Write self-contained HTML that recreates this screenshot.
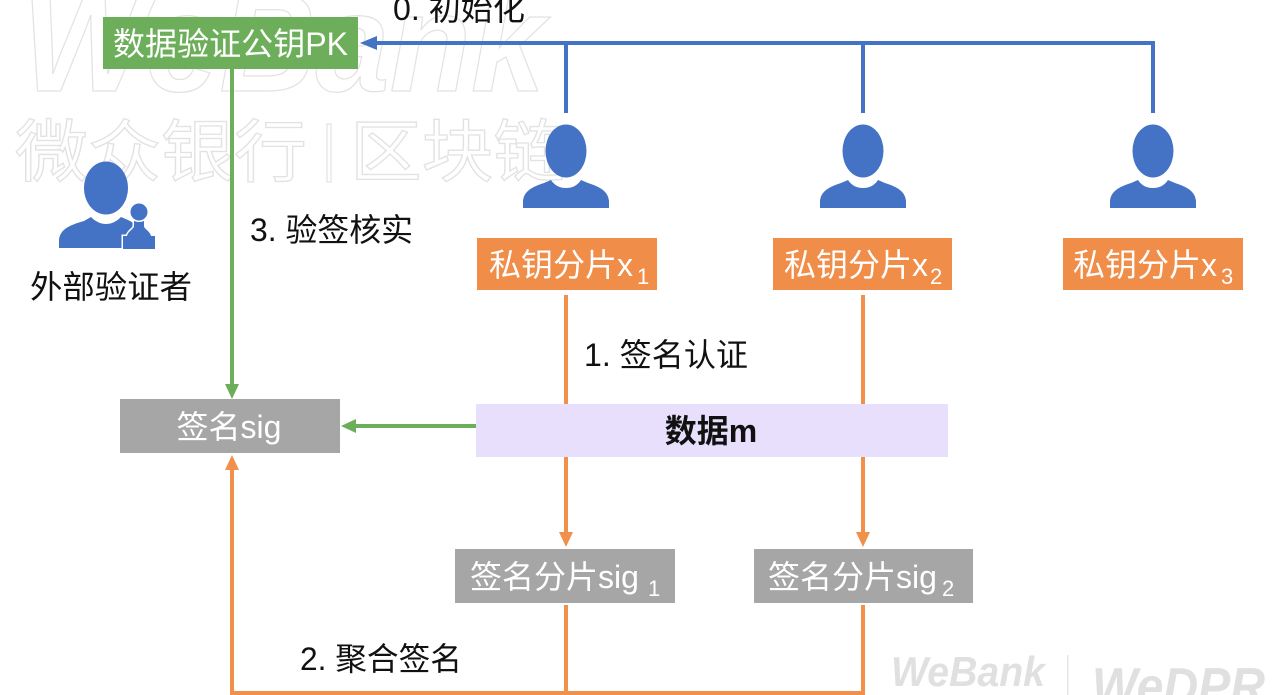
<!DOCTYPE html>
<html>
<head>
<meta charset="utf-8">
<style>
  html, body { margin:0; padding:0; background:#fff; }
  body { width:1280px; height:695px; overflow:hidden; }
  svg { display:block; }
  .t { font-family: "Liberation Sans", "Noto Sans CJK SC", sans-serif; font-size:32px; }
</style>
</head>
<body>
<svg width="1280" height="695" viewBox="0 0 1280 695" xmlns="http://www.w3.org/2000/svg">
  <defs>
    <g id="user">
      <ellipse cx="0" cy="151" rx="20.5" ry="26.5" fill="#4472C4"/>
      <path d="M-43,208 L-43,201 C-42,191 -34,187 -22,183 L-15,180 C-11,186 -6,188 0,188 C6,188 11,186 15,180 L22,183 C34,187 42,191 43,201 L43,208 Z" fill="#4472C4"/>
    </g>
  </defs>

  <!-- Watermarks -->
  <text x="22" y="91" font-family="Liberation Sans, sans-serif" font-weight="bold" font-style="italic" font-size="140" textLength="523" lengthAdjust="spacingAndGlyphs" fill="#fff" stroke="#e2e2e2" stroke-width="1.3">WeBank</text>
  <text x="15" y="176" font-family="Liberation Sans, 'Noto Sans CJK SC', sans-serif" font-size="68" textLength="292" lengthAdjust="spacingAndGlyphs" fill="#fff" stroke="#e2e2e2" stroke-width="1.3">微众银行</text>
  <rect x="327" y="124" width="4" height="58" fill="#fff" stroke="#e2e2e2" stroke-width="1.2"/>
  <text x="350" y="176" font-family="Liberation Sans, 'Noto Sans CJK SC', sans-serif" font-size="68" textLength="215" lengthAdjust="spacingAndGlyphs" fill="#fff" stroke="#e2e2e2" stroke-width="1.3">区块链</text>

  <text x="891" y="686" font-family="Liberation Sans, sans-serif" font-weight="bold" font-style="italic" font-size="42" textLength="154" lengthAdjust="spacingAndGlyphs" fill="#e0e0e0">WeBank</text>
  <rect x="1067" y="655" width="1.5" height="40" fill="#e6e6e6"/>
  <text x="1092" y="704" font-family="Liberation Sans, sans-serif" font-weight="bold" font-style="italic" font-size="52" textLength="173" lengthAdjust="spacingAndGlyphs" fill="#e0e0e0">WeDPR</text>

  <!-- Blue init connectors -->
  <g stroke="#4472C4" stroke-width="4" fill="none">
    <line x1="1153" y1="43" x2="374" y2="43"/>
    <line x1="566" y1="43" x2="566" y2="113"/>
    <line x1="863" y1="43" x2="863" y2="113"/>
    <line x1="1153" y1="41" x2="1153" y2="113"/>
  </g>
  <polygon points="360,43 377,36 377,50" fill="#4472C4"/>

  <!-- Green connectors -->
  <g stroke="#6DAE5A" stroke-width="4" fill="none">
    <line x1="232" y1="69" x2="232" y2="386"/>
    <line x1="477" y1="426" x2="354" y2="426"/>
  </g>
  <polygon points="232,399 225,384 239,384" fill="#6DAE5A"/>
  <polygon points="341,426 356,419 356,433" fill="#6DAE5A"/>

  <!-- Orange connectors -->
  <g stroke="#F0904A" stroke-width="4" fill="none">
    <line x1="566" y1="295" x2="566" y2="534"/>
    <line x1="863" y1="295" x2="863" y2="534"/>
    <line x1="566" y1="605" x2="566" y2="693"/>
    <line x1="863" y1="605" x2="863" y2="693"/>
    <line x1="230" y1="693" x2="865" y2="693"/>
    <line x1="232" y1="695" x2="232" y2="468"/>
  </g>
  <polygon points="566,547 559,532 573,532" fill="#F0904A"/>
  <polygon points="863,547 856,532 870,532" fill="#F0904A"/>
  <polygon points="232,455 225,470 239,470" fill="#F0904A"/>

  <!-- Green PK box -->
  <rect x="103" y="17" width="255" height="52" fill="#6DAE5A"/>
  <text class="t" x="113" y="55" fill="#fff" textLength="235" lengthAdjust="spacingAndGlyphs">数据验证公钥PK</text>

  <!-- Label 0 -->
  <text class="t" x="393" y="20" fill="#111" textLength="132" lengthAdjust="spacingAndGlyphs">0. 初始化</text>

  <!-- Users -->
  <use href="#user" x="566" y="0"/>
  <use href="#user" x="863" y="0"/>
  <use href="#user" x="1153" y="0"/>

  <!-- External verifier icon -->
  <ellipse cx="106" cy="188" rx="22" ry="26.5" fill="#4472C4"/>
  <path d="M59,248 L59,240 C60,229 70,225 84,221 L91,217 C96,222 101,224 106,224 C111,224 116,222 121,217 L128,220 C134,223 138,226 140,230 L140,248 Z" fill="#4472C4"/>
  <g fill="#4472C4" stroke="#fff" stroke-width="3" paint-order="stroke">
    <path d="M134,218 L144,218 L144,226 C144,229 150,231 151,236 L155,236 L155,249 L123,249 L123,236 L127,236 C128,231 134,229 134,226 Z"/>
    <circle cx="139" cy="212" r="8.5"/>
  </g>
  <text class="t" x="30" y="298" fill="#111" textLength="162" lengthAdjust="spacingAndGlyphs">外部验证者</text>

  <!-- Label 3 -->
  <text class="t" x="250" y="241" fill="#111" textLength="163" lengthAdjust="spacingAndGlyphs">3. 验签核实</text>

  <!-- Private key shards -->
  <rect x="477" y="238" width="180" height="52" fill="#F08D49"/>
  <text class="t" x="489" y="276" fill="#fff">私钥分片x<tspan x="637" y="284" font-size="22">1</tspan></text>
  <rect x="773" y="238" width="179" height="52" fill="#F08D49"/>
  <text class="t" x="784" y="276" fill="#fff">私钥分片x<tspan x="930" y="284" font-size="22">2</tspan></text>
  <rect x="1063" y="238" width="180" height="52" fill="#F08D49"/>
  <text class="t" x="1073" y="276" fill="#fff">私钥分片x<tspan x="1221" y="284" font-size="22">3</tspan></text>

  <!-- Label 1 -->
  <text class="t" x="584" y="366" fill="#111" textLength="164" lengthAdjust="spacingAndGlyphs">1. 签名认证</text>

  <!-- Data m -->
  <rect x="476" y="404" width="472" height="53" fill="#E7DFFB"/>
  <text class="t" x="711" y="442" fill="#111" font-weight="bold" text-anchor="middle">数据m</text>

  <!-- Signature sig -->
  <rect x="120" y="399" width="220" height="54" fill="#A6A6A6"/>
  <text class="t" x="229" y="438" fill="#fff" text-anchor="middle">签名sig</text>

  <!-- Signature shards -->
  <rect x="455" y="549" width="220" height="54" fill="#A6A6A6"/>
  <text class="t" x="470" y="588" fill="#fff">签名分片sig<tspan x="648" y="596" font-size="22">1</tspan></text>
  <rect x="754" y="549" width="219" height="54" fill="#A6A6A6"/>
  <text class="t" x="768" y="588" fill="#fff">签名分片sig<tspan x="942" y="596" font-size="22">2</tspan></text>

  <!-- Label 2 -->
  <text class="t" x="300" y="670" fill="#111" textLength="162" lengthAdjust="spacingAndGlyphs">2. 聚合签名</text>
</svg>
</body>
</html>
